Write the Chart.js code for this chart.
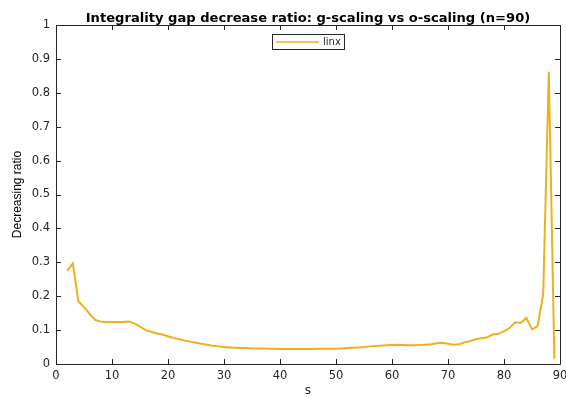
<!DOCTYPE html>
<html>
<head>
<meta charset="utf-8">
<script src="https://cdn.jsdelivr.net/npm/chart.js@4/dist/chart.umd.min.js"></script>
<style>
html,body{margin:0;padding:0;background:#fff;}
#wrap{width:566px;height:398px;position:relative;}
</style>
</head>
<body>
<div id="wrap"><canvas id="c" width="566" height="398"></canvas></div>
<script>
const sValues = [2,3,4,5,6,7,8,9,10,11,12,13,14,15,16,17,18,19,20,21,22,23,24,25,26,27,28,29,30,31,32,33,34,35,36,37,38,39,40,41,42,43,44,45,46,47,48,49,50,51,52,53,54,55,56,57,58,59,60,61,62,63,64,65,66,67,68,69,70,71,72,73,74,75,76,77,78,79,80,81,82,83,84,85,86,87,88,89];
const linxRatio = [0.275,0.297,0.185,0.168,0.148,0.130,0.125,0.123,0.124,0.124,0.124,0.125,0.120,0.110,0.100,0.095,0.090,0.087,0.082,0.077,0.073,0.069,0.066,0.063,0.060,0.057,0.054,0.052,0.050,0.049,0.048,0.047,0.047,0.046,0.046,0.046,0.045,0.045,0.044,0.044,0.044,0.044,0.044,0.044,0.044,0.045,0.045,0.045,0.045,0.046,0.047,0.048,0.049,0.050,0.052,0.053,0.054,0.055,0.056,0.057,0.056,0.055,0.055,0.056,0.057,0.058,0.061,0.063,0.060,0.057,0.058,0.064,0.068,0.073,0.076,0.079,0.087,0.089,0.097,0.106,0.123,0.121,0.136,0.102,0.112,0.205,0.862,0.015];
const xTicks = [0,10,20,30,40,50,60,70,80,90];
const yTicks = [0,0.1,0.2,0.3,0.4,0.5,0.6,0.7,0.8,0.9,1];
const seriesName = 'linx';
const titleText = 'Integrality gap decrease ratio: g-scaling vs o-scaling (n=90)';
const xLabel = 's';
const yLabel = 'Decreasing ratio';

const lineColor = '#EDB120';
const axisColor = '#262626';
const FONT = '"Liberation Sans", Arial, Helvetica, sans-serif';
const WIDE = '"DejaVu Sans", Verdana, sans-serif';

const boxTicks = {
  id: 'boxTicks',
  afterDraw(chart) {
    const {ctx, chartArea: a, scales} = chart;
    ctx.save();
    // title centred over the plot area
    ctx.fillStyle = '#000';
    ctx.font = 'bold 13.1px ' + WIDE;
    ctx.textAlign = 'center';
    ctx.textBaseline = 'alphabetic';
    ctx.fillText(titleText, (a.left + a.right) / 2, 21.5);
    ctx.textAlign = 'left';

    ctx.strokeStyle = axisColor;
    ctx.lineWidth = 1;
    ctx.beginPath();
    ctx.rect(Math.round(a.left)+0.5, Math.round(a.top)+0.5, Math.round(a.right-a.left), Math.round(a.bottom-a.top));
    ctx.stroke();
    const tl = 5;
    ctx.beginPath();
    xTicks.forEach(v => {
      const px = Math.round(scales.x.getPixelForValue(v)) + 0.5;
      ctx.moveTo(px, a.bottom); ctx.lineTo(px, a.bottom - tl);
      ctx.moveTo(px, a.top); ctx.lineTo(px, a.top + tl);
    });
    yTicks.forEach(v => {
      const py = Math.round(scales.y.getPixelForValue(v)) + 0.5;
      ctx.moveTo(a.left, py); ctx.lineTo(a.left + tl, py);
      ctx.moveTo(a.right, py); ctx.lineTo(a.right - tl, py);
    });
    ctx.stroke();
    // legend
    const lx = 272, ly = 34, lw = 72, lh = 15;
    ctx.fillStyle = '#fff';
    ctx.fillRect(lx, ly, lw, lh);
    ctx.strokeStyle = axisColor;
    ctx.strokeRect(lx + 0.5, ly + 0.5, lw, lh);
    ctx.strokeStyle = lineColor;
    ctx.lineWidth = 1.5;
    ctx.beginPath();
    ctx.moveTo(lx + 4, ly + 8); ctx.lineTo(lx + 47, ly + 8);
    ctx.stroke();
    ctx.fillStyle = axisColor;
    ctx.font = '10px ' + WIDE;
    ctx.textBaseline = 'middle';
    ctx.fillText(seriesName, lx + 51, ly + 8.5);
    ctx.restore();
  }
};

new Chart(document.getElementById('c'), {
  type: 'line',
  data: {
    labels: sValues,
    datasets: [{
      label: seriesName,
      data: sValues.map((s, i) => ({x: s, y: linxRatio[i]})),
      borderColor: lineColor,
      backgroundColor: lineColor,
      borderWidth: 2,
      pointRadius: 0,
      tension: 0,
      fill: false
    }]
  },
  options: {
    responsive: false,
    animation: false,
    devicePixelRatio: 1,
    layout: {padding: {left: 0, right: 6, top: 25, bottom: 0}},
    plugins: {
      legend: {display: false},
      tooltip: {enabled: false},
      title: {display: false}
    },
    scales: {
      x: {
        type: 'linear',
        min: 0, max: 90,
        afterBuildTicks(scale) { scale.ticks = xTicks.map(v => ({value: v})); },
        afterFit(scale) { scale.height = 34; scale.paddingLeft = 0; scale.paddingRight = 0; },
        grid: {display: false, drawTicks: false},
        border: {display: false},
        ticks: {color: axisColor, font: {family: WIDE, size: 11.5}, padding: 5, maxRotation: 0},
        title: {display: true, text: xLabel, color: axisColor, font: {family: WIDE, size: 12}, padding: {top: 0, bottom: 0}}
      },
      y: {
        type: 'linear',
        min: 0, max: 1,
        afterBuildTicks(scale) { scale.ticks = yTicks.map(v => ({value: v})); },
        afterFit(scale) { scale.width = 56; scale.paddingTop = 0; scale.paddingBottom = 0; },
        grid: {display: false, drawTicks: false},
        border: {display: false},
        ticks: {color: axisColor, font: {family: WIDE, size: 11.5}, padding: 6,
          callback: v => String(Math.round(v * 10) / 10)},
        title: {display: true, text: yLabel, color: '#000', font: {family: FONT, size: 12}, padding: {top: 10, bottom: 0}}
      }
    }
  },
  plugins: [boxTicks]
});
</script>
</body>
</html>
